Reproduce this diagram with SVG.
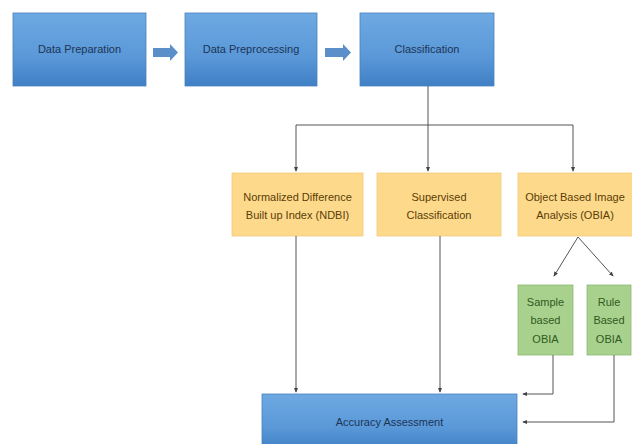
<svg xmlns="http://www.w3.org/2000/svg" width="632" height="444" viewBox="0 0 632 444">
<style>
.t{font-family:"Liberation Sans",Arial,sans-serif;font-size:11px;text-anchor:middle}
.tb{fill:#1c3557}
.to{fill:#5a3d05}
.tg{fill:#2f5a20}
.bb{fill:url(#gb);stroke:#4a82bf;stroke-width:0.8}
.ob{fill:#fdd98c;stroke:#f3cb7a;stroke-width:0.8}
.gr{fill:#a9d18e;stroke:#8dba72;stroke-width:0.8}
.c{fill:none;stroke:#555;stroke-width:1}
.ba{fill:#5a8fca}
</style>
<defs>
<linearGradient id="gb" x1="0" y1="0" x2="0" y2="1">
<stop offset="0" stop-color="#6ea9e2"/>
<stop offset="0.6" stop-color="#5a98d8"/>
<stop offset="1" stop-color="#3f7fc4"/>
</linearGradient>
<marker id="ah" viewBox="0 0 6 6" refX="5" refY="3" markerWidth="5" markerHeight="5" orient="auto">
<path d="M0,0.5 L6,3 L0,5.5 Z" fill="#444"/>
</marker>
</defs>
<rect width="632" height="444" fill="#fff"/>
<g id="n-prep"><rect class="bb" x="13" y="13" width="133" height="73"/><text class="t tb" x="79.5" y="53">Data Preparation</text></g>
<g id="n-preproc"><rect class="bb" x="185" y="13" width="132" height="73"/><text class="t tb" x="251" y="53">Data Preprocessing</text></g>
<g id="n-class"><rect class="bb" x="360" y="13" width="134" height="73"/><text class="t tb" x="427" y="53">Classification</text></g>
<g id="n-ndbi"><rect class="ob" x="232" y="173" width="131" height="63"/><text class="t to" x="297.5" y="201">Normalized Difference</text><text class="t to" x="297.5" y="219">Built up Index (NDBI)</text></g>
<g id="n-sup"><rect class="ob" x="377" y="173" width="124" height="63"/><text class="t to" x="439" y="201">Supervised</text><text class="t to" x="439" y="219">Classification</text></g>
<g id="n-obia"><rect class="ob" x="518" y="173" width="116" height="63"/><text class="t to" x="575" y="201">Object Based Image</text><text class="t to" x="575" y="219">Analysis (OBIA)</text></g>
<g id="n-sample"><rect class="gr" x="518" y="285" width="55" height="70"/><text class="t tg" x="545.5" y="306">Sample</text><text class="t tg" x="545.5" y="324">based</text><text class="t tg" x="545.5" y="343">OBIA</text></g>
<g id="n-rule"><rect class="gr" x="587" y="285" width="44" height="70"/><text class="t tg" x="609" y="306">Rule</text><text class="t tg" x="609" y="324">Based</text><text class="t tg" x="609" y="343">OBIA</text></g>
<g id="n-acc"><rect class="bb" x="262" y="394" width="255" height="56"/><text class="t tb" x="389.5" y="426">Accuracy Assessment</text></g>
<g id="connectors">
<path class="ba" d="M153,48 H170 V44 L178,52.5 L170,61 V57 H153 Z"/>
<path class="ba" d="M325,48 H343 V44 L351,52.5 L343,61 V57 H325 Z"/>
<path class="c" d="M428,86 V125 M296,125 H573"/>
<path class="c" d="M296,125 V171" marker-end="url(#ah)"/>
<path class="c" d="M428,125 V171" marker-end="url(#ah)"/>
<path class="c" d="M573,125 V171" marker-end="url(#ah)"/>
<path class="c" d="M296,236 V392" marker-end="url(#ah)"/>
<path class="c" d="M440,236 V392" marker-end="url(#ah)"/>
<path class="c" d="M578,237 L554,276" marker-end="url(#ah)"/>
<path class="c" d="M578,237 L613,276" marker-end="url(#ah)"/>
<path class="c" d="M553,355 V394 H523" marker-end="url(#ah)"/>
<path class="c" d="M614,355 V422 H523" marker-end="url(#ah)"/>
</g>
</svg>
